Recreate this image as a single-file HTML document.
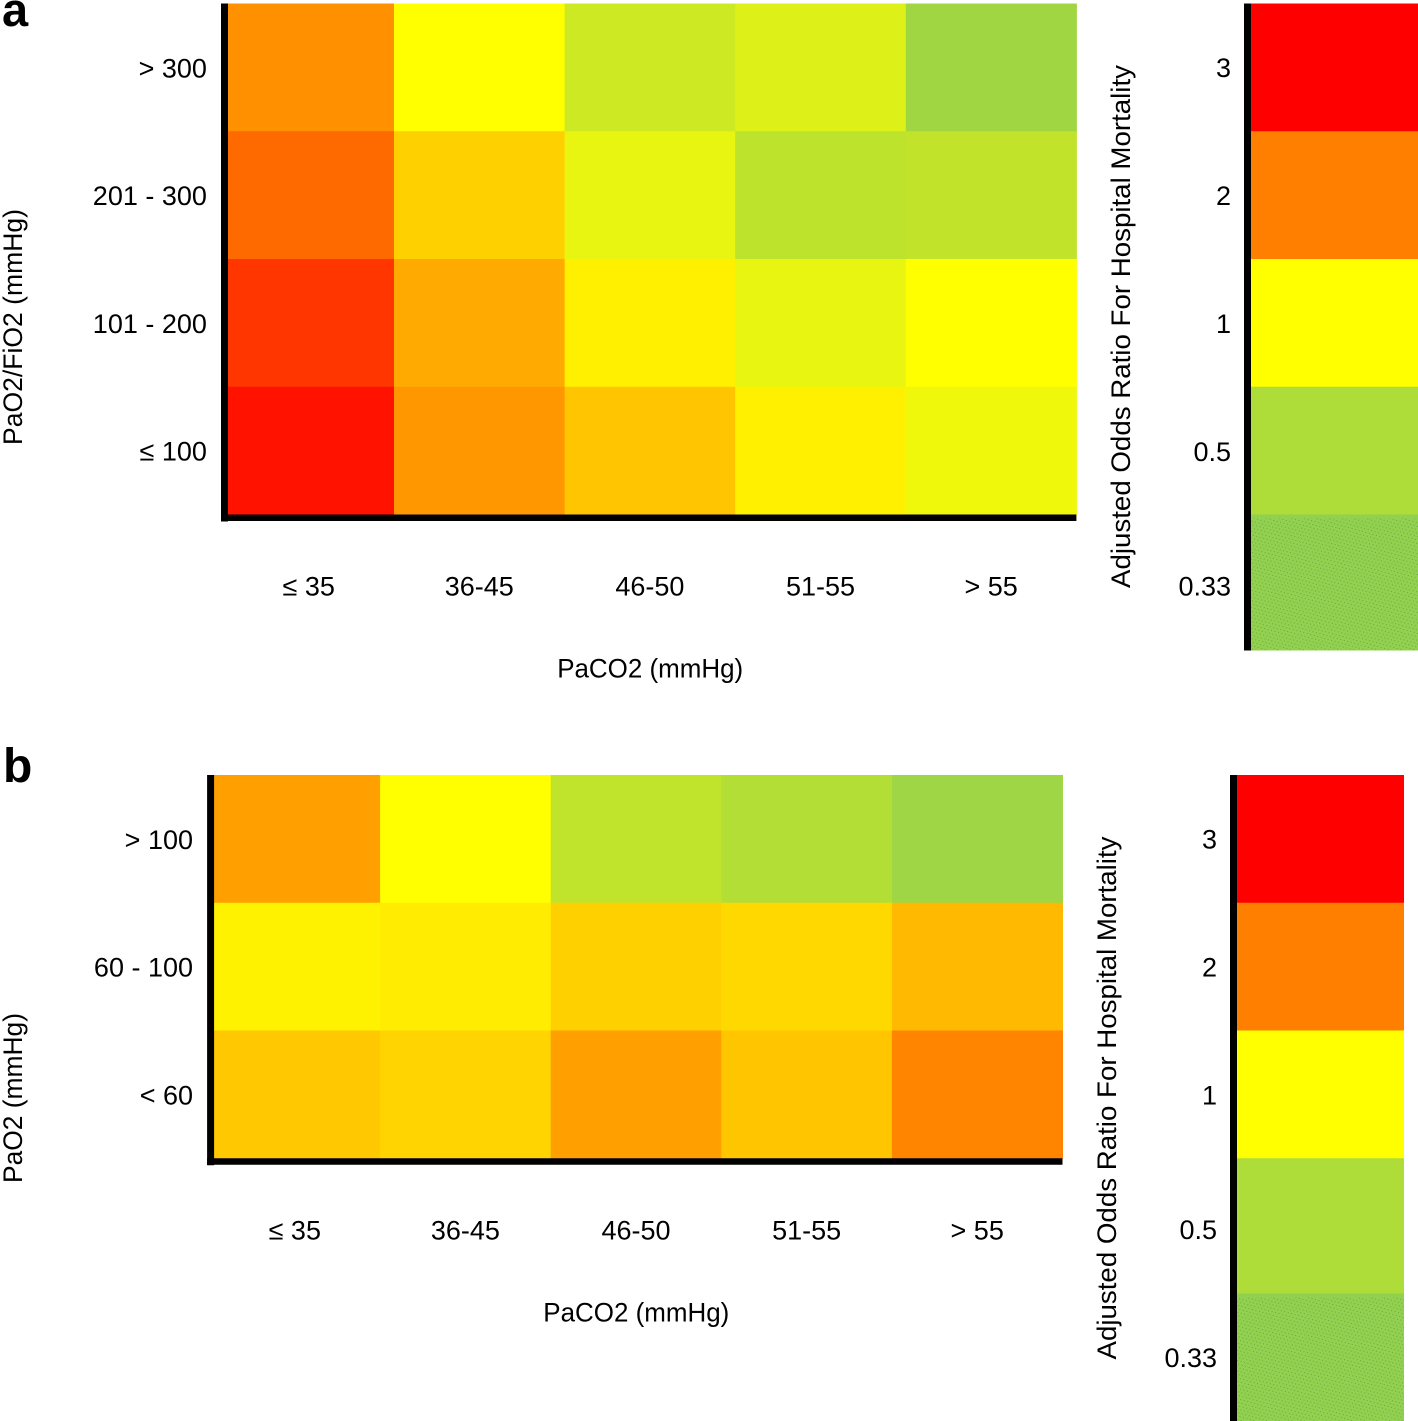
<!DOCTYPE html>
<html lang="en">
<head>
<meta charset="utf-8">
<title>Adjusted odds ratio heatmaps</title>
<style>
html,body{margin:0;padding:0;background:#fff;}
svg{display:block;}
text{font-family:"Liberation Sans",sans-serif;fill:#000;}
</style>
</head>
<body>
<svg id="figure" width="1418" height="1421" viewBox="0 0 1418 1421" xmlns="http://www.w3.org/2000/svg">
  <defs>
    <pattern id="dots" width="6" height="4" patternUnits="userSpaceOnUse" patternTransform="rotate(-18)">
      <rect x="0" y="0" width="1" height="1" fill="#5f9a3c" fill-opacity="0.75"/>
      <rect x="3" y="2" width="1" height="1" fill="#5f9a3c" fill-opacity="0.75"/>
    </pattern>
  </defs>
  <rect width="1418" height="1421" fill="#fff"/>
  <text x="2" y="26" font-size="47" font-weight="700">a</text>
  <text x="3" y="782" font-size="48" font-weight="700">b</text>
  <g id="panel-a"></g>
  <g id="panel-b"></g>
</svg>
<script>
// Data: adjusted odds ratio per cell (rows top to bottom).
const paco2Categories = ["≤ 35", "36-45", "46-50", "51-55", "> 55"];

const panelARows = ["> 300", "201 - 300", "101 - 200", "≤ 100"];
const panelAValues = [
  [1.87, 1.00, 0.69, 0.79, 0.42],
  [2.17, 1.37, 0.85, 0.60, 0.62],
  [2.58, 1.67, 1.12, 0.86, 1.00],
  [2.85, 1.81, 1.46, 1.12, 0.90]
];

const panelBRows = ["> 100", "60 - 100", "< 60"];
const panelBValues = [
  [1.75, 1.00, 0.61, 0.53, 0.41],
  [1.10, 1.15, 1.37, 1.31, 1.55],
  [1.43, 1.34, 1.75, 1.45, 1.97]
];

const legendValues = [3, 2, 1, 0.5, 0.33];
const legendLabels = ["3", "2", "1", "0.5", "0.33"];

// Colour scale
const colorDomain = [0.33, 0.5, 1, 2, 3];
const colorRange = [[146, 208, 80], [174, 220, 56], [255, 255, 0], [255, 128, 0], [255, 0, 0]];

function colorScale(v) {
  const d = colorDomain;
  let i = 0;
  while (i < d.length - 2 && v > d[i + 1]) i++;
  const t = Math.max(0, Math.min(1, (v - d[i]) / (d[i + 1] - d[i])));
  const c = colorRange[i].map((a, k) => Math.round(a + (colorRange[i + 1][k] - a) * t));
  return "rgb(" + c.join(",") + ")";
}

const NS = "http://www.w3.org/2000/svg";
function mk(parent, tag, attrs, text) {
  const el = document.createElementNS(NS, tag);
  for (const k in attrs) el.setAttribute(k, attrs[k]);
  if (text !== undefined) el.textContent = text;
  parent.appendChild(el);
  return el;
}

function drawPanel(root, opts, rows, values) {
  const STEP_X = 170.6, STEP_Y = 127.75, FONT = 27;
  const xScale = i => opts.x0 + i * STEP_X;
  const yScale = i => opts.top + i * STEP_Y;
  const bottom = yScale(rows.length);
  const right = xScale(paco2Categories.length);

  values.forEach((row, r) => {
    row.forEach((v, c) => {
      const cell = mk(root, "rect", {
        x: xScale(c), y: yScale(r), width: STEP_X + 0.5, height: STEP_Y + 0.5, fill: colorScale(v)
      });
      
      
    });
  });

  const yAxis = mk(root, "rect", { x: opts.x0 - 2.4, y: opts.top, width: 7, height: bottom + 7 - opts.top, fill: "#000" });
  
  
  const xAxis = mk(root, "rect", { x: opts.x0 - 2.4, y: bottom, width: right - opts.x0 + 2.4, height: 6.5, fill: "#000" });
  
  

  rows.forEach((label, r) => {
    const t = mk(root, "text", { x: opts.x0 - 16.5, y: yScale(r) + STEP_Y / 2 + 10, "font-size": FONT, "text-anchor": "end" }, label);
    
    
  });
  paco2Categories.forEach((label, c) => {
    const t = mk(root, "text", { x: xScale(c) + STEP_X / 2, y: bottom + 81, "font-size": FONT, "text-anchor": "middle" }, label);
    
    
  });

  const xTitle = mk(root, "text", { x: (opts.x0 + right) / 2 + 0.3, y: bottom + 163, "font-size": FONT, "text-anchor": "middle", textLength: 186, lengthAdjust: "spacingAndGlyphs" }, "PaCO2 (mmHg)");
  
  

  const yTitle = mk(root, "text", { transform: "translate(22," + opts.yTitleCenter + ") rotate(-90)", "font-size": FONT, "text-anchor": "middle", textLength: opts.yTitleLength, lengthAdjust: "spacingAndGlyphs" }, opts.yTitle);
  
  

  const legendTitle = mk(root, "text", { transform: "translate(" + (opts.legendX - 121) + "," + (opts.top + 323) + ") rotate(-90)", "font-size": FONT, "text-anchor": "middle", textLength: 523, lengthAdjust: "spacingAndGlyphs" }, "Adjusted Odds Ratio For Hospital Mortality");
  
  

  // Legend: rows share STEP_Y; one row carries an extra gap.
  const legendTop = i => opts.top + i * STEP_Y + (i > opts.legendGapAt ? opts.legendGap : 0);
  const legendHeight = i => STEP_Y + (i === opts.legendGapAt ? opts.legendGap : 0);
  legendValues.forEach((v, i) => {
    const swatch = mk(root, "rect", { x: opts.legendX, y: legendTop(i), width: 167, height: legendHeight(i) + 0.5, fill: colorScale(v) });
    
    
    if (i === legendValues.length - 1) {
      const tex = mk(root, "rect", { x: opts.legendX, y: legendTop(i) + 4, width: 167, height: legendHeight(i) - 4, fill: "url(#dots)" });
      
      
    }
    const lab = mk(root, "text", {
      x: opts.legendX - 20,
      y: opts.top + 64.5 + i * 128 + (i >= opts.labelGapAt ? 6.5 : 0) + 9,
      "font-size": FONT, "text-anchor": "end"
    }, legendLabels[i]);
    
    
  });
  const legendAxis = mk(root, "rect", { x: opts.legendX - 7, y: opts.top, width: 7, height: legendTop(4) + legendHeight(4) - opts.top + 0.5, fill: "#000" });
  
  
}

drawPanel(document.getElementById("panel-a"), {
  x0: 223.4, top: 3.5, legendX: 1251, legendGapAt: 4, labelGapAt: 4, legendGap: 7.75,
  yTitle: "PaO2/FiO2 (mmHg)", yTitleCenter: 327, yTitleLength: 236
}, panelARows, panelAValues);

drawPanel(document.getElementById("panel-b"), {
  x0: 209.5, top: 775, legendX: 1237, legendGapAt: 3, labelGapAt: 3, legendGap: 7.5,
  yTitle: "PaO2 (mmHg)", yTitleCenter: 1098, yTitleLength: 170
}, panelBRows, panelBValues);
</script>
</body>
</html>
